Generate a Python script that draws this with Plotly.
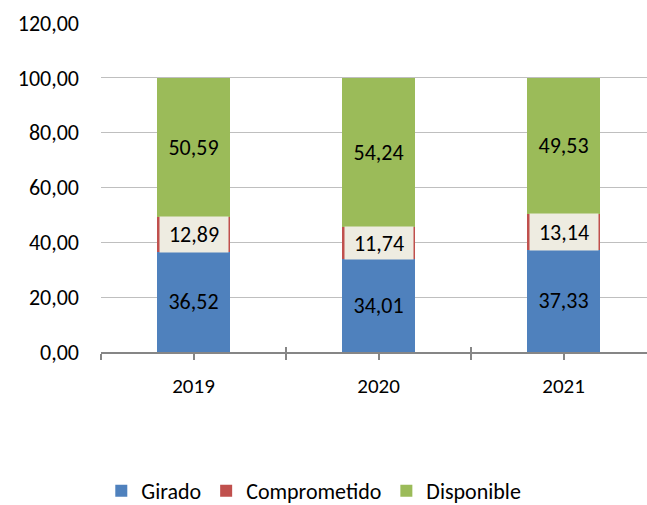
import plotly.graph_objects as go

# data
years = ["2019", "2020", "2021"]
girado = [36.52, 34.01, 37.33]
comprometido = [12.89, 11.74, 13.14]
disponible = [50.59, 54.24, 49.53]

FONT = "Calibri, Carlito, Lato, sans-serif"
W, H = 647, 505
M_T, M_B, M_L, M_R = 23, 153, 101, 0
Y_MAX = 120
BAR_W = 0.395

xpos = list(range(len(years)))
plot_h = H - M_T - M_B
px_per_unit = plot_h / Y_MAX

fig = go.Figure()

fig.add_trace(go.Bar(
    x=xpos, y=girado, name="Girado", width=BAR_W,
    marker=dict(color="#4F81BD", line=dict(width=0)),
    text=girado, texttemplate="%{y:.2f}", textposition="inside",
    insidetextanchor="middle", textangle=0,
    textfont=dict(size=22, color="black", family=FONT),
))
fig.add_trace(go.Bar(
    x=xpos, y=comprometido, name="Comprometido", width=BAR_W,
    marker=dict(color="#C0504D", line=dict(width=0)),
))
fig.add_trace(go.Bar(
    x=xpos, y=disponible, name="Disponible", width=BAR_W,
    marker=dict(color="#9BBB59", line=dict(width=0)),
    text=disponible, texttemplate="%{y:.2f}", textposition="inside",
    insidetextanchor="middle", textangle=0,
    textfont=dict(size=22, color="black", family=FONT),
))

# labels with cream box on the Comprometido segment
for i, (g, c) in enumerate(zip(girado, comprometido)):
    fig.add_annotation(
        x=xpos[i], y=g + c / 2, xref="x", yref="y",
        text=f"{c:.2f}".replace(".", ","), showarrow=False,
        bgcolor="#EEECE1", borderpad=0,
        width=68, height=c * px_per_unit,
        font=dict(size=22, color="black", family=FONT),
    )

# dummy trace so the overlay axis is drawn
fig.add_trace(go.Scatter(x=[0], y=[0], xaxis="x2", mode="markers",
                         marker=dict(opacity=0), showlegend=False, hoverinfo="skip"))

fig.update_layout(
    width=W, height=H,
    margin=dict(t=M_T, b=M_B, l=M_L, r=M_R, autoexpand=False),
    barmode="stack",
    separators=",.",
    plot_bgcolor="white", paper_bgcolor="white",
    font=dict(family=FONT, size=21, color="black"),
    showlegend=True,
    legend=dict(orientation="h", xref="container", yref="paper",
                x=0.485, y=-139 / plot_h, xanchor="center", yanchor="middle",
                font=dict(size=22), itemwidth=30, traceorder="normal"),
    xaxis=dict(
        range=[-0.5, 2.451], tickvals=xpos, ticktext=years,
        ticks="outside", ticklen=6, tickcolor="#868686", tickwidth=1.5,
        minor=dict(tickvals=[-0.5, 0.5, 1.5, 2.5], ticks="outside",
                   ticklen=6, tickcolor="#868686", tickwidth=1.5),
        showline=True, linecolor="#868686", linewidth=1.5,
        showgrid=False, zeroline=False, ticklabelstandoff=8,
        tickfont=dict(size=21), automargin=False,
    ),
    xaxis2=dict(
        overlaying="x", matches="x", anchor="y", side="bottom",
        tickvals=[-0.5, 0.5, 1.5, 2.5], ticks="inside", ticklen=5,
        tickcolor="#868686", tickwidth=1.5, showticklabels=False,
        showgrid=False, zeroline=False, showline=False, automargin=False,
    ),
    yaxis=dict(
        range=[0, Y_MAX], dtick=20, tickformat=".2f",
        showgrid=True, gridcolor="#BFBFBF", gridwidth=1.2,
        zeroline=False, showline=False, ticks="",
        ticklabelstandoff=21, tickfont=dict(size=22), automargin=False,
    ),
)

# page body has a default margin; drop it so the figure sits at the corner
fig.write_html("out.html", config={"displayModeBar": False},
               post_script="document.body.style.margin='0px';")
